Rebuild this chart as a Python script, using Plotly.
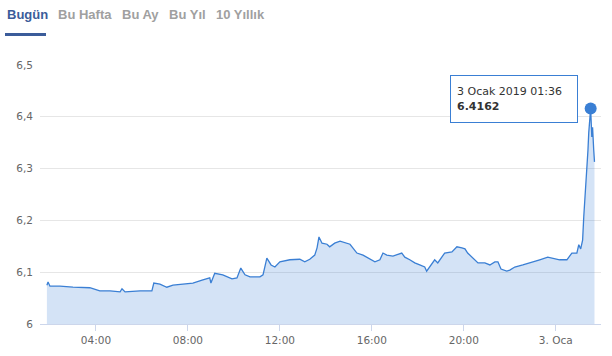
import plotly.graph_objects as go

# --- data ---
times = [
    "2019-01-02 01:52", "2019-01-02 01:55", "2019-01-02 02:00", "2019-01-02 02:26",
    "2019-01-02 03:00", "2019-01-02 03:44", "2019-01-02 04:10", "2019-01-02 04:37",
    "2019-01-02 05:03", "2019-01-02 05:08", "2019-01-02 05:16", "2019-01-02 05:55",
    "2019-01-02 06:26", "2019-01-02 06:31", "2019-01-02 06:47", "2019-01-02 07:05",
    "2019-01-02 07:21", "2019-01-02 07:58", "2019-01-02 08:13", "2019-01-02 08:39",
    "2019-01-02 08:57", "2019-01-02 09:00", "2019-01-02 09:10", "2019-01-02 09:31",
    "2019-01-02 09:55", "2019-01-02 10:08", "2019-01-02 10:18", "2019-01-02 10:29",
    "2019-01-02 10:42", "2019-01-02 11:08", "2019-01-02 11:16", "2019-01-02 11:26",
    "2019-01-02 11:37", "2019-01-02 11:47", "2019-01-02 12:00", "2019-01-02 12:26",
    "2019-01-02 12:52", "2019-01-02 13:05", "2019-01-02 13:18", "2019-01-02 13:31",
    "2019-01-02 13:37", "2019-01-02 13:42", "2019-01-02 13:50", "2019-01-02 14:03",
    "2019-01-02 14:10", "2019-01-02 14:23", "2019-01-02 14:37", "2019-01-02 15:03",
    "2019-01-02 15:10", "2019-01-02 15:21", "2019-01-02 15:37", "2019-01-02 15:55",
    "2019-01-02 16:08", "2019-01-02 16:21", "2019-01-02 16:29", "2019-01-02 16:39",
    "2019-01-02 16:55", "2019-01-02 17:18", "2019-01-02 17:26", "2019-01-02 17:39",
    "2019-01-02 17:52", "2019-01-02 18:05", "2019-01-02 18:18", "2019-01-02 18:23",
    "2019-01-02 18:37", "2019-01-02 18:44", "2019-01-02 18:52", "2019-01-02 19:10",
    "2019-01-02 19:29", "2019-01-02 19:42", "2019-01-02 19:55", "2019-01-02 20:03",
    "2019-01-02 20:10", "2019-01-02 20:23", "2019-01-02 20:37", "2019-01-02 20:55",
    "2019-01-02 21:08", "2019-01-02 21:21", "2019-01-02 21:29", "2019-01-02 21:37",
    "2019-01-02 21:52", "2019-01-02 22:00", "2019-01-02 22:13", "2019-01-02 22:34",
    "2019-01-02 22:57", "2019-01-02 23:18", "2019-01-02 23:39", "2019-01-02 23:52",
    "2019-01-03 00:10", "2019-01-03 00:29", "2019-01-03 00:42", "2019-01-03 00:55",
    "2019-01-03 01:00", "2019-01-03 01:05", "2019-01-03 01:10", "2019-01-03 01:13",
    "2019-01-03 01:18", "2019-01-03 01:21", "2019-01-03 01:24", "2019-01-03 01:26",
    "2019-01-03 01:29", "2019-01-03 01:31", "2019-01-03 01:34", "2019-01-03 01:36",
    "2019-01-03 01:39", "2019-01-03 01:41",
]
values = [
    6.075, 6.081, 6.073, 6.073,
    6.071, 6.070, 6.064, 6.064,
    6.062, 6.068, 6.062, 6.064,
    6.064, 6.079, 6.077, 6.071,
    6.075, 6.077, 6.079, 6.085,
    6.089, 6.079, 6.098, 6.095,
    6.087, 6.089, 6.108, 6.095,
    6.091, 6.091, 6.095, 6.127,
    6.114, 6.110, 6.120, 6.124,
    6.125, 6.120, 6.125, 6.133,
    6.147, 6.168, 6.156, 6.154,
    6.149, 6.156, 6.160, 6.154,
    6.147, 6.137, 6.133, 6.125,
    6.120, 6.124, 6.137, 6.133,
    6.131, 6.137, 6.129, 6.124,
    6.118, 6.114, 6.110, 6.102,
    6.116, 6.124, 6.118, 6.137,
    6.139, 6.149, 6.147, 6.145,
    6.137, 6.127, 6.118, 6.118,
    6.114, 6.120, 6.120, 6.106,
    6.102, 6.104, 6.110, 6.114,
    6.120, 6.124, 6.129, 6.127,
    6.124, 6.124, 6.137, 6.137,
    6.153, 6.145, 6.162, 6.207,
    6.259, 6.297, 6.336, 6.369,
    6.394, 6.4162, 6.361, 6.380,
    6.336, 6.313,
]

x_tick_vals = ["2019-01-02 04:00", "2019-01-02 08:00", "2019-01-02 12:00",
               "2019-01-02 16:00", "2019-01-02 20:00", "2019-01-03 00:00"]
x_tick_text = ["04:00", "08:00", "12:00", "16:00", "20:00", "3. Oca"]
y_tick_vals = [6.0, 6.1, 6.2, 6.3, 6.4, 6.5]
y_tick_text = ["6", "6,1", "6,2", "6,3", "6,4", "6,5"]
x_range = ["2019-01-02 01:34", "2019-01-03 01:58"]

tabs = ["Bugün", "Bu Hafta", "Bu Ay", "Bu Yıl", "10 Yıllık"]
tooltip_date = "3 Ocak 2019 01:36"
tooltip_value = "6.4162"

LINE = "#3a7fd4"
FILL = "rgba(58,127,212,0.22)"

peak_i = max(range(len(values)), key=lambda i: values[i])

fig = go.Figure()
fig.add_trace(go.Scatter(
    x=times, y=values, mode="lines",
    line=dict(color=LINE, width=1.3),
    fill="tozeroy", fillcolor=FILL,
    hoverinfo="skip", showlegend=False,
))
fig.add_trace(go.Scatter(
    x=[times[peak_i]], y=[values[peak_i]], mode="markers",
    marker=dict(color=LINE, size=12),
    hoverinfo="skip", showlegend=False,
))

L, R, T, B = 40, 11, 65, 32
W, H = 612, 356
pw, ph = W - L - R, H - T - B

def px(x):
    return (x - L) / pw

def py(y):
    return (H - B - y) / ph

# tabs
tab_lefts = [5, 56, 120, 167, 214]
for i, (t, xl) in enumerate(zip(tabs, tab_lefts)):
    fig.add_annotation(
        text=f"<b>{t}</b>", xref="paper", yref="paper",
        x=px(xl), y=py(15), xanchor="left", yanchor="middle",
        showarrow=False,
        font=dict(family="Liberation Sans, Arial", size=13,
                  color="#3b5c9a" if i == 0 else "#a0a0a0"),
    )
fig.add_shape(type="line", xref="paper", yref="paper",
              x0=px(5), x1=px(46), y0=py(34.5), y1=py(34.5),
              line=dict(color="#3b5c9a", width=3))

# tooltip
fig.add_annotation(
    x=times[peak_i], y=values[peak_i], xref="x", yref="y",
    text=f"{tooltip_date}<br><b>{tooltip_value}</b>",
    showarrow=False, xanchor="right", yanchor="middle",
    xshift=-13, yshift=9, align="left",
    bgcolor="white", bordercolor=LINE, borderwidth=1, borderpad=6,
    width=114, height=34,
    font=dict(family="DejaVu Sans, Verdana", size=11, color="#333333"),
)

fig.update_layout(
    width=W, height=H,
    margin=dict(l=L, r=R, t=T, b=B, pad=0),
    paper_bgcolor="white", plot_bgcolor="white",
    font=dict(family="DejaVu Sans, Verdana", size=10.5, color="#666666"),
    xaxis=dict(
        type="date", range=x_range,
        tickvals=x_tick_vals, ticktext=x_tick_text,
        showgrid=False, zeroline=False,
        showline=True, linecolor="#ccd6eb", linewidth=1,
        ticks="outside", ticklen=6, tickcolor="#ccd6eb",
        tickfont=dict(color="#666666", size=10.5),
    ),
    yaxis=dict(
        range=[6.0, 6.5],
        tickvals=y_tick_vals, ticktext=y_tick_text,
        showgrid=True, gridcolor="#e6e6e6", zeroline=False,
        showline=False, ticks="", ticklabelstandoff=6,
        tickfont=dict(color="#666666", size=10.5),
    ),
)

fig.write_html("out.html")
